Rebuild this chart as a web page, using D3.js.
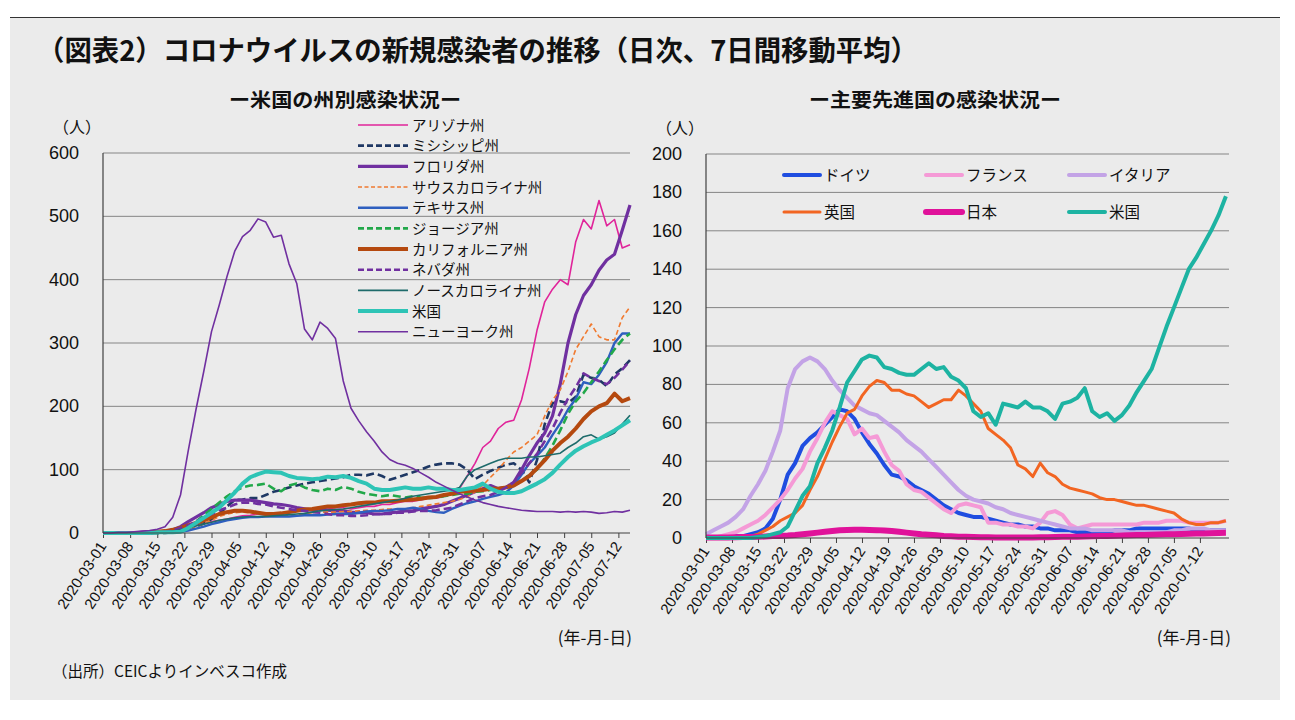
<!DOCTYPE html>
<html><head><meta charset="utf-8">
<script src="https://cdn.jsdelivr.net/npm/d3@7"></script>
<style>
body{margin:0;background:#fff;}
svg{display:block;}
text{font-family:"Liberation Sans",Arial,"Noto Sans CJK JP",sans-serif;fill:#111;}
.jp{font-family:"Noto Sans CJK JP","Noto Sans CJK SC",sans-serif;}
</style></head><body>
<svg id="c" width="1295" height="720"></svg>
<script>
// ---------- DATA ----------
const tickLabels = ["2020-03-01","2020-03-08","2020-03-15","2020-03-22","2020-03-29","2020-04-05","2020-04-12","2020-04-19","2020-04-26","2020-05-03","2020-05-10","2020-05-17","2020-05-24","2020-05-31","2020-06-07","2020-06-14","2020-06-21","2020-06-28","2020-07-05","2020-07-12"];
const leftTicksY = [0,100,200,300,400,500,600];
const rightTicksY = [0,20,40,60,80,100,120,140,160,180,200];

// left chart: every other day, 2020-03-01 .. 2020-07-15
const leftDates = d3.utcDay.range(new Date(Date.UTC(2020,2,1)), new Date(Date.UTC(2020,6,16)), 2);
// right chart: every other day, 2020-03-01 .. 2020-07-19
const rightDates = d3.utcDay.range(new Date(Date.UTC(2020,2,1)), new Date(Date.UTC(2020,6,20)), 2);

const stateNames = ["アリゾナ州","ミシシッピ州","フロリダ州","サウスカロライナ州","テキサス州","ジョージア州","カリフォルニア州","ネバダ州","ノースカロライナ州","米国","ニューヨーク州"];

const arizona = [0,0,0,0,0,0,1,1,2,3, 5,8,12,15,18,20,22,25,27,28, 30,30,30,32,33,35,35,36,37,38, 40,40,38,40,42,42,45,45,48,50, 50,52,55,55,58,62,70,90,110,135, 145,165,175,178,210,260,320,365,385,400, 392,460,495,480,525,485,495,450,455];
const mississippi = [0,0,0,0,0,0,0,0,0,1, 3,6,10,15,22,30,42,52,53,55, 55,60,65,68,72,75,78,80,82,84, 86,88,92,92,91,94,90,84,88,92, 96,100,105,108,110,110,108,100,85,92, 98,103,108,110,100,80,115,172,205,208, 205,215,250,245,242,232,250,260,273];
const florida = [0,0,0,0,0,1,1,1,2,5, 10,18,25,32,40,45,50,52,52,52, 50,48,46,45,43,40,38,36,38,36, 35,35,33,32,32,30,30,32,33,35, 35,38,40,42,45,50,55,60,65,70, 75,70,72,80,100,122,142,158,185,235, 300,345,375,392,415,431,440,478,518];
const southCarolina = [0,0,0,0,0,0,0,0,0,1, 3,6,10,15,20,26,30,32,33,32, 30,30,28,27,27,28,30,32,33,33, 33,34,34,35,36,36,37,38,38,38, 40,42,44,46,48,50,53,57,65,75, 88,100,115,128,135,145,155,185,210,226, 255,290,310,330,310,305,305,340,357];
const texas = [0,0,0,0,0,0,0,0,1,1, 2,4,7,10,14,17,20,22,24,25, 25,26,26,26,26,27,28,28,28,29, 30,30,30,32,34,35,35,36,38,38, 40,38,35,33,32,38,43,47,50,54, 57,60,64,75,92,110,122,135,155,173, 195,212,238,235,250,270,300,315,315];
const georgia = [0,0,0,0,0,0,0,0,1,2, 5,10,18,28,38,48,58,66,72,75, 76,78,70,66,75,78,72,68,66,70, 68,73,70,65,62,60,58,60,58,56, 58,56,55,56,58,60,62,62,65,66, 68,70,72,75,82,92,100,118,138,162, 188,208,221,238,255,273,290,305,315];
const california = [0,0,0,0,0,0,1,2,3,5, 8,12,16,20,25,30,33,35,35,34, 32,30,30,31,33,35,37,38,40,42, 42,44,45,47,48,48,50,50,51,52, 53,54,56,57,60,62,65,66,67,68, 70,70,72,75,82,90,102,115,130,142, 152,165,180,192,200,205,220,208,213];
const nevada = [0,0,0,0,0,0,0,1,2,4, 8,12,18,25,30,36,40,45,48,48, 46,45,42,40,38,36,35,33,32,30, 28,28,27,27,28,30,30,30,32,32, 34,35,35,36,38,40,45,50,55,58, 60,65,72,80,95,110,125,145,165,190, 212,230,252,245,240,235,245,258,272];
const northCarolina = [0,0,0,0,0,0,0,0,1,3, 5,8,11,14,17,20,22,24,25,26, 26,26,27,28,29,30,31,33,35,36, 37,38,40,42,44,46,48,50,52,55, 58,60,62,64,66,68,72,90,100,105, 110,115,118,118,118,120,120,122,124,126, 135,142,152,155,148,152,158,172,186];
const usStates = [0,0,0,0,0,0,0,1,1,1, 2,8,16,24,32,40,52,64,78,88, 93,97,96,95,90,87,86,85,86,89, 88,90,87,82,78,70,68,68,70,72, 70,70,72,70,70,68,68,70,72,78, 70,65,63,63,66,72,78,85,95,108, 120,130,137,143,148,155,162,170,178];
const newYork = [0,0,1,1,2,3,4,6,10,25, 60,130,195,255,318,360,405,445,468,478, 496,491,467,470,425,394,322,305,333,323, 307,240,197,177,160,145,128,116,110,107, 102,95,88,80,74,68,62,57,52,48, 45,42,40,38,36,35,34,34,34,33, 34,33,34,33,31,32,34,33,36];

const countryNames = ["ドイツ","フランス","イタリア","英国","日本","米国"];
const germany = [0,0,0,0,1,1,2,3,5,10, 20,33,39,48,52,55,59,63,67,66, 62,55,49,44,38,33,32,30,27,25, 23,20,17,15,13,12,11,11,10,9, 8,7,7,6,6,5,5,4,4,4, 3,3,3,3,3,4,4,4,5,5, 5,5,5,5,5,5,4,4,4,4, 4];
const france = [0,0,1,2,3,5,7,9,12,16, 20,25,31,36,45,52,60,66,64,62, 54,57,52,53,45,38,35,28,25,24, 21,18,15,13,17,18,17,16,8,8, 7,7,6,6,5,8,13,14,12,7, 5,6,7,7,7,7,7,7,7,8, 8,8,9,9,9,8,8,8,8,8, 9];
const italy = [2,4,6,8,11,15,22,28,35,45, 56,78,88,92,94,92,88,82,77,73, 69,67,65,64,61,58,55,51,48,45, 41,37,33,29,25,22,20,19,18,16, 15,13,12,11,10,9,8,7,6,5, 5,5,4,4,4,4,4,3,3,3, 3,3,3,4,4,5,5,5,4,4, 4];
const uk = [0,0,0,0,0,1,1,2,4,6, 9,11,13,17,25,32,41,50,58,65, 67,74,79,82,81,77,77,75,74,71, 68,70,72,72,77,74,70,66,57,54, 51,47,38,36,32,39,34,32,28,26, 25,24,23,21,20,20,19,18,17,17, 16,15,14,13,10,8,7,7,8,8, 9];
const japan = [0.3,0.3,0.3,0.3,0.4,0.5,0.5,0.6,0.8,1, 1.1,1.3,1.6,2,2.4,2.8,3.2,3.6,4,4.2, 4.3,4.3,4.2,4.1,3.9,3.6,3.2,2.8,2.4,2, 1.7,1.4,1.1,0.9,0.7,0.6,0.5,0.4,0.4,0.3, 0.3,0.3,0.3,0.3,0.3,0.4,0.4,0.5,0.6,0.7, 0.7,0.8,0.9,1,1.1,1.2,1.3,1.4,1.5,1.6, 1.7,1.8,1.9,2,2.1,2.2,2.3,2.4,2.5,2.6, 2.7];
const usCountry = [0,0,0,0,0,0,0,0.5,1,2, 3,6,14,22,27,39,47,56,68,81, 87,93,95,94,89,88,86,85,85,88, 91,88,89,84,82,78,66,63,65,59, 70,69,68,71,68,68,66,62,70,71, 73,78,66,63,65,61,64,69,76,82, 88,99,110,120,130,140,146,153,160,168, 178];

// ---------- DRAW ----------
const svg = d3.select("#c");
svg.append("rect").attr("x",10).attr("y",18).attr("width",1270).attr("height",682).attr("fill","#ebebeb");
svg.append("line").attr("x1",10).attr("x2",1280).attr("y1",17.5).attr("y2",17.5).attr("stroke","#333").attr("stroke-width",1);

svg.append("text").attr("class","jp").attr("x",37).attr("y",61)
  .attr("font-size",28).attr("font-weight","bold").attr("textLength",881).attr("lengthAdjust","spacingAndGlyphs")
  .text("（図表2）コロナウイルスの新規感染者の推移（日次、7日間移動平均）");

svg.append("text").attr("class","jp").attr("x",345).attr("y",107).attr("text-anchor","middle")
  .attr("font-size",19).attr("font-weight","bold").attr("textLength",232).attr("lengthAdjust","spacingAndGlyphs")
  .text("ー米国の州別感染状況ー");
svg.append("text").attr("class","jp").attr("x",935).attr("y",107).attr("text-anchor","middle")
  .attr("font-size",19).attr("font-weight","bold").attr("textLength",252).attr("lengthAdjust","spacingAndGlyphs")
  .text("ー主要先進国の感染状況ー");

svg.append("text").attr("class","jp").attr("x",52).attr("y",677).attr("font-size",15.5)
  .text("（出所）CEICよりインベスコ作成");

const parse = d3.utcParse("%Y-%m-%d");
const tickDates = tickLabels.map(parse);

function panel(cfg){
  const g = svg.append("g");
  const x = d3.scaleUtc().domain(cfg.xDomain).range([cfg.x0, cfg.x1]);
  const y = d3.scaleLinear().domain([0, cfg.yMax]).range([cfg.y0, cfg.y1]);
  // gridlines
  g.selectAll("line.grid").data(cfg.yTicks.filter(v=>v>0)).join("line")
    .attr("x1",cfg.x0).attr("x2",cfg.x1).attr("y1",d=>y(d)).attr("y2",d=>y(d))
    .attr("stroke","#858585").attr("stroke-width",1);
  // y labels
  g.selectAll("text.yl").data(cfg.yTicks).join("text")
    .attr("x",cfg.x0-24).attr("y",d=>y(d)+6).attr("text-anchor","end")
    .attr("font-size",18).text(d=>d);
  g.append("text").attr("class","jp").attr("x",cfg.x0-26).attr("y",cfg.y1-20).attr("text-anchor","middle")
    .attr("font-size",16).text("（人）");
  // x axis ticks
  const ax = g.append("g").attr("transform",`translate(0,${cfg.y0})`)
    .call(d3.axisBottom(x).tickValues(tickDates).tickSize(5).tickFormat(""));
  ax.select(".domain").remove();
  ax.selectAll(".tick line").attr("stroke","#404040");
  g.selectAll("text.xl").data(tickDates).join("text")
    .attr("transform",(d,i)=>`translate(${x(d)+4},${cfg.y0+13}) rotate(-57)`)
    .attr("text-anchor","end").attr("font-size",15).attr("fill","#222")
    .text((d,i)=>tickLabels[i]);
  g.append("text").attr("class","jp").attr("x",cfg.x1+2).attr("y",644).attr("text-anchor","end")
    .attr("font-size",17).text("(年-月-日)");
  // series
  const line = d3.line().x((d,i)=>x(cfg.dates[i])).y(d=>y(d));
  cfg.series.forEach(s=>{
    g.append("path").attr("d",line(s.values)).attr("fill","none")
      .attr("stroke",s.color).attr("stroke-width",s.w)
      .attr("stroke-dasharray",s.dash||null).attr("stroke-linejoin","round");
  });
  // axis lines
  g.append("line").attr("x1",cfg.x0).attr("x2",cfg.x0).attr("y1",cfg.y1).attr("y2",cfg.y0).attr("stroke","#404040").attr("stroke-width",1.2);
  g.append("line").attr("x1",cfg.x0).attr("x2",cfg.x1).attr("y1",cfg.y0).attr("y2",cfg.y0).attr("stroke","#404040").attr("stroke-width",1.2);
  return {x,y,g};
}

const leftSeries = [
  {values:arizona, color:"#e0249a", w:1.6},
  {values:mississippi, color:"#1f3864", w:2.6, dash:"8,4"},
  {values:florida, color:"#7030a0", w:3.2},
  {values:southCarolina, color:"#f07a30", w:1.6, dash:"5,3"},
  {values:texas, color:"#2e5fbf", w:2.4},
  {values:georgia, color:"#22a84a", w:2.6, dash:"8,4"},
  {values:california, color:"#b5490f", w:4},
  {values:nevada, color:"#7030a0", w:2.6, dash:"8,4"},
  {values:northCarolina, color:"#1e6b6b", w:1.6},
  {values:usStates, color:"#2ec4b6", w:4},
  {values:newYork, color:"#7030a0", w:1.6}
];
leftSeries.forEach((s,i)=>s.name=stateNames[i]);

panel({x0:103,x1:630,y0:533,y1:153,yMax:600,yTicks:leftTicksY,
  xDomain:[new Date(Date.UTC(2020,2,1)), new Date(Date.UTC(2020,6,15))],
  dates:leftDates, series:leftSeries});

const rightSeries = [
  {values:germany, color:"#1f4de0", w:4},
  {values:france, color:"#f59ad6", w:4},
  {values:italy, color:"#c3a3e6", w:4},
  {values:uk, color:"#f26522", w:3},
  {values:japan, color:"#e0129a", w:6},
  {values:usCountry, color:"#1db3a2", w:4}
];
rightSeries.forEach((s,i)=>s.name=countryNames[i]);

panel({x0:706,x1:1229,y0:538,y1:154,yMax:200,yTicks:rightTicksY,
  xDomain:[new Date(Date.UTC(2020,2,1)), new Date(Date.UTC(2020,6,19,20))],
  dates:rightDates, series:rightSeries});

// left legend
const lg = svg.append("g");
leftSeries.forEach((s,i)=>{
  const yy = 125 + i*20.67;
  lg.append("line").attr("x1",358).attr("x2",408).attr("y1",yy).attr("y2",yy)
    .attr("stroke",s.color).attr("stroke-width",s.w).attr("stroke-dasharray",s.dash?(s.dash==="5,3"?"4,2.5":"6,3"):null);
  lg.append("text").attr("class","jp").attr("x",412).attr("y",yy+5.5).attr("font-size",14.5).text(s.name);
});
// right legend
const rg = svg.append("g");
const colX = [782,924,1067], rowY = [175,212];
rightSeries.forEach((s,i)=>{
  const cx = colX[i%3], yy = rowY[Math.floor(i/3)];
  rg.append("line").attr("x1",cx+2).attr("x2",cx+38).attr("y1",yy).attr("y2",yy)
    .attr("stroke",s.color).attr("stroke-width",s.w).attr("stroke-linecap","round");
  rg.append("text").attr("class","jp").attr("x",cx+42).attr("y",yy+6).attr("font-size",15.5).text(s.name);
});
</script></body></html>
